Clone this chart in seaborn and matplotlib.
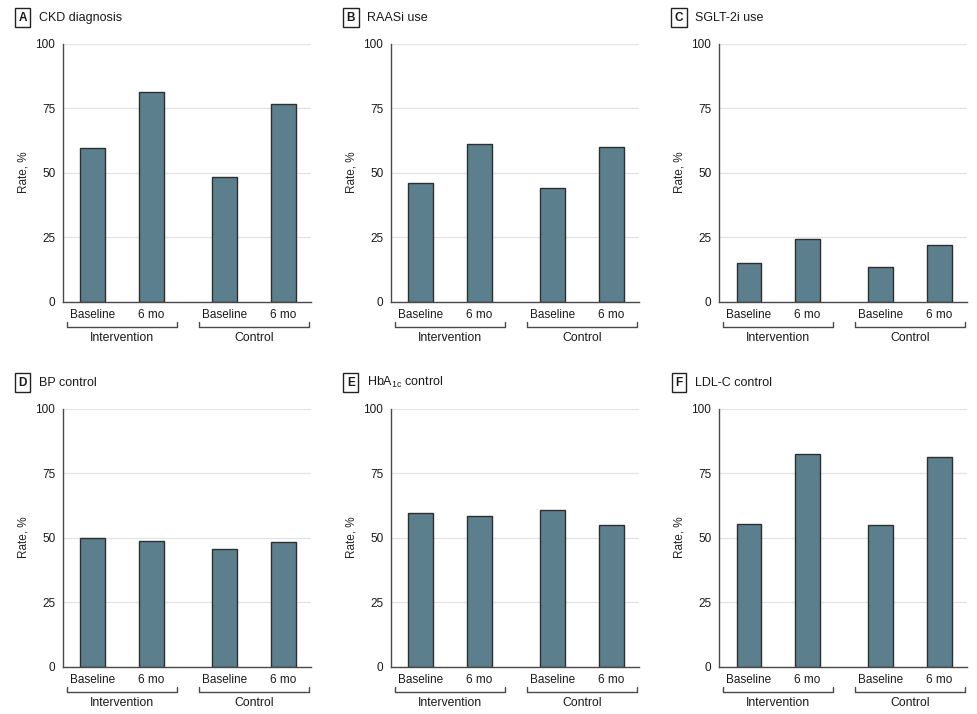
import pandas as pd
import matplotlib.pyplot as plt
import seaborn as sns
from matplotlib.transforms import blended_transform_factory

# Data
letters = ["A", "B", "C", "D", "E", "F"]
titles = ["CKD diagnosis", "RAASi use", "SGLT-2i use",
          "BP control", r"HbA$_{\mathregular{1c}}$ control", "LDL-C control"]
groups = ["Intervention", "Control"]
times = ["Baseline", "6 mo"]

# order: intervention baseline, intervention 6 mo, control baseline, control 6 mo
ckd_diagnosis = [59.6, 81.1, 48.3, 76.5]
raasi_use = [45.8, 61.0, 44.0, 59.9]
sglt2i_use = [15.0, 24.1, 13.5, 21.9]
bp_control = [49.7, 48.9, 45.7, 48.3]
hba1c_control = [59.5, 58.5, 60.7, 55.0]
ldlc_control = [55.2, 82.4, 54.9, 81.1]
panel_values = [ckd_diagnosis, raasi_use, sglt2i_use,
                bp_control, hba1c_control, ldlc_control]
yticks = [0, 25, 50, 75, 100]

bar_color = "#5c7f8d"
edge_color = "#2e2e2e"
axis_color = "#4a4a4a"
text_color = "#1a1a1a"

sns.set_style("white")
plt.rcParams["font.family"] = ["Liberation Sans Narrow", "Liberation Sans", "DejaVu Sans"]
plt.rcParams["mathtext.fontset"] = "custom"
plt.rcParams["mathtext.rm"] = "Liberation Sans Narrow"
plt.rcParams["text.color"] = text_color

fig = plt.figure(figsize=(9.78, 7.14), dpi=100)

lefts = [0.0644, 0.3998, 0.7352]
bottoms = [0.5775, 0.0662]
w, h = 0.2536, 0.3615

for i, vals in enumerate(panel_values):
    ax = fig.add_axes([lefts[i % 3], bottoms[i // 3], w, h])
    df = pd.DataFrame({
        "group": [g for g in groups for _ in times],
        "time": times * len(groups),
        "rate": vals,
    })
    sns.barplot(data=df, x="group", y="rate", hue="time", order=groups,
                hue_order=times, palette=[bar_color, bar_color],
                width=0.88, gap=0.57, edgecolor=edge_color, linewidth=1.0,
                saturation=1, legend=False, ax=ax)

    ax.set_ylim(0, 100)
    ax.set_xlim(-0.447, 1.432)
    ax.set_yticks(yticks)
    ax.set_yticklabels([str(t) for t in yticks])
    ax.yaxis.grid(True, color="#e3e3e3", linewidth=0.9)
    ax.set_axisbelow(True)
    for s in ["top", "right"]:
        ax.spines[s].set_visible(False)
    for s in ["left", "bottom"]:
        ax.spines[s].set_color(axis_color)
        ax.spines[s].set_linewidth(1.0)
    ax.tick_params(axis="y", length=3.5, width=1, color=axis_color,
                   labelsize=8.5, pad=2, labelcolor=text_color)

    centers = sorted(p.get_x() + p.get_width() / 2 for p in ax.patches)
    ax.set_xticks(centers)
    ax.set_xticklabels(times * len(groups))
    ax.tick_params(axis="x", length=0, labelsize=8.5, pad=5, labelcolor=text_color)
    ax.set_xlabel("")
    ax.set_ylabel("Rate, %", fontsize=8.5, labelpad=4)

    # group brackets under the tick labels
    trans = blended_transform_factory(ax.transData, ax.transAxes)
    for gi, g in enumerate(groups):
        x0, x1 = gi - 0.42, gi + 0.42
        ax.plot([x0, x0, x1, x1], [-0.078, -0.097, -0.097, -0.078],
                color=axis_color, lw=1, transform=trans, clip_on=False)
        ax.text(gi, -0.139, g, transform=trans, ha="center", va="center",
                fontsize=8.8)

    # panel letter and title
    ax.annotate(letters[i], xy=(0, 1), xycoords="axes fraction",
                xytext=(-29, 18.5), textcoords="offset points",
                ha="center", va="center", fontsize=8.5, fontweight="bold",
                bbox=dict(boxstyle="square,pad=0.3", fc="white",
                          ec="#222222", lw=1))
    ax.annotate(titles[i], xy=(0, 1), xycoords="axes fraction",
                xytext=(-17.5, 18.5), textcoords="offset points",
                ha="left", va="center", fontsize=9)

fig.savefig("out.png", dpi=100)
